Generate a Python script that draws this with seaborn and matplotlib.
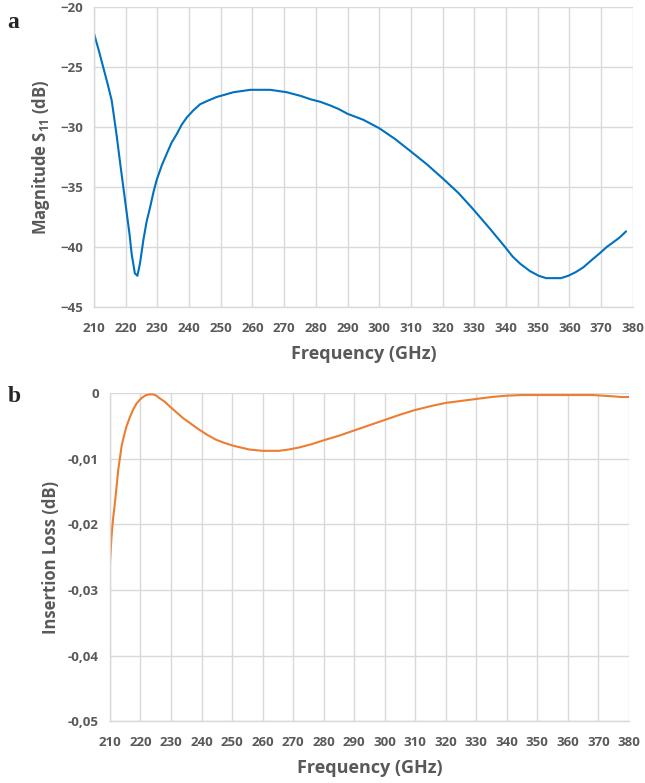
import matplotlib
matplotlib.use("Agg")
import matplotlib.pyplot as plt
import seaborn as sns
import pandas as pd
from matplotlib.ticker import FuncFormatter

# S11 magnitude (panel a)
s11_freq = [210, 211.5, 212.9, 214.3, 215.6, 217.1, 218.4, 219.8, 221.2, 221.9, 222.9,
            223.7, 224.5, 225.6, 226.6, 227.7, 228.8, 229.8, 231.4, 233.0, 234.5,
            236.1, 237.7, 239.3, 241.4, 243.5, 246.0, 248.7, 251.4, 254.0, 256.7,
            259.3, 262.5, 265.6, 268.2, 270.8, 275.1, 278.5, 281.4, 284.5, 287.2,
            290, 295, 300, 305, 309.8, 315, 320.1, 325, 329.8, 335, 339.7, 342.1,
            344.5, 347.5, 350.3, 352.7, 355.0, 357.3, 359.7, 362.0, 364.4, 367.0,
            369.7, 371.8, 373.9, 375.9, 377.9]
s11_db = [-22.2, -23.6, -25.0, -26.4, -27.8, -30.6, -33.3, -36.1, -38.9, -40.6, -42.2,
          -42.4, -41.4, -39.4, -37.9, -36.7, -35.4, -34.4, -33.2, -32.2, -31.3,
          -30.6, -29.8, -29.2, -28.6, -28.1, -27.8, -27.5, -27.3, -27.1, -27.0,
          -26.9, -26.9, -26.9, -27.0, -27.1, -27.4, -27.7, -27.9, -28.2, -28.5,
          -28.9, -29.4, -30.1, -31.0, -32.0, -33.1, -34.3, -35.5, -36.9, -38.5, -40.0, -40.8,
          -41.4, -42.0, -42.4, -42.6, -42.6, -42.6, -42.4, -42.1, -41.7, -41.1,
          -40.5, -40.0, -39.6, -39.2, -38.7]

# Insertion loss (panel b)
il_freq = [210, 210.5, 211.0, 211.6, 212.2, 212.7, 213.3, 213.8, 214.6, 215.4, 216.5,
           217.6, 218.7, 219.8, 220.8, 221.9, 223.0, 224.1, 225.2, 226.3, 227.9,
           229.5, 231.7, 233.9, 236.6, 239.3, 242.0, 244.7, 247.5, 250.2, 252.9,
           255.6, 257.8, 259.9, 262.7, 265.4, 268.6, 271.9, 276.0, 280, 285,
           290, 295, 300, 305, 309.8, 315, 320, 325, 330, 335, 339.8, 345,
           349.7, 355, 360, 364, 368, 371.5, 374.8, 377.5, 380]
il_db = [-0.0259, -0.0219, -0.0192, -0.0168, -0.0141, -0.0117, -0.0098, -0.0081, -0.0065,
         -0.0051, -0.0037, -0.0025, -0.0016, -0.0010, -0.0006, -0.0003, -0.0002, -0.0002,
         -0.0004, -0.0008, -0.0013, -0.0020, -0.0029, -0.0038, -0.0047, -0.0056, -0.0064,
         -0.0071, -0.0076, -0.0080, -0.0083, -0.0086, -0.0087, -0.0088, -0.0088, -0.0088,
         -0.0086, -0.0083, -0.0078, -0.0072, -0.0065, -0.0057, -0.0049, -0.0041, -0.0033,
         -0.0026, -0.0020, -0.0015, -0.0012, -0.0009, -0.0006, -0.0004, -0.0003,
         -0.0003, -0.0003, -0.0003, -0.0003, -0.0003, -0.0004, -0.0005, -0.0006, -0.0006]

freq_ticks = list(range(210, 381, 10))

sns.set_style("white")
plt.rcParams['font.family'] = ['Open Sans', 'DejaVu Sans']
plt.rcParams['mathtext.default'] = 'regular'

grey = "#595959"
grid = "#d9d9d9"

fig = plt.figure(figsize=(6.45, 7.83), dpi=100)
ax1 = fig.add_axes([0.1457, 0.608, 0.8353, 0.383])
ax2 = fig.add_axes([0.1705, 0.079, 0.8045, 0.419])

df_a = pd.DataFrame({"Frequency": s11_freq, "S11": s11_db})
df_b = pd.DataFrame({"Frequency": il_freq, "IL": il_db})

sns.lineplot(data=df_a, x="Frequency", y="S11", ax=ax1, color="#0070C0", linewidth=1.5)
sns.lineplot(data=df_b, x="Frequency", y="IL", ax=ax2, color="#ED7D31", linewidth=1.5)

ax1.set_ylim(-45, -20)
ax1.set_yticks([-45, -40, -35, -30, -25, -20])
ax1.set_ylabel("Magnitude S$_{11}$ (dB)", fontsize=12, fontweight="bold", color=grey, labelpad=6)

ax2.set_ylim(-0.05, 0)
ax2.set_yticks([-0.05, -0.04, -0.03, -0.02, -0.01, 0])
ax2.yaxis.set_major_formatter(FuncFormatter(lambda v, p: "0" if abs(v) < 1e-9 else f"{v:.2f}".replace(".", ",")))
ax2.set_ylabel("Insertion Loss (dB)", fontsize=12, fontweight="bold", color=grey, labelpad=6)

for ax in (ax1, ax2):
    ax.set_xlim(210, 380)
    ax.set_xticks(freq_ticks)
    ax.grid(True, color=grid, linewidth=1)
    ax.tick_params(length=0, labelsize=9.5, labelcolor=grey)
    ax.tick_params(axis="x", pad=11)
    ax.tick_params(axis="y", pad=8)
    for lab in ax.get_xticklabels() + ax.get_yticklabels():
        lab.set_fontweight("bold")
    for side in ("top", "right"):
        ax.spines[side].set_visible(False)
    for side in ("left", "bottom"):
        ax.spines[side].set_color(grid)
        ax.spines[side].set_linewidth(1)
    ax.set_xlabel("Frequency (GHz)", fontsize=13, fontweight="bold", color=grey, labelpad=7)

fig.text(0.012, 0.985, "a", fontsize=17, fontweight="bold", family="Liberation Serif", va="top")
fig.text(0.012, 0.507, "b", fontsize=17, fontweight="bold", family="Liberation Serif", va="top")

fig.savefig("out.png", dpi=100)
